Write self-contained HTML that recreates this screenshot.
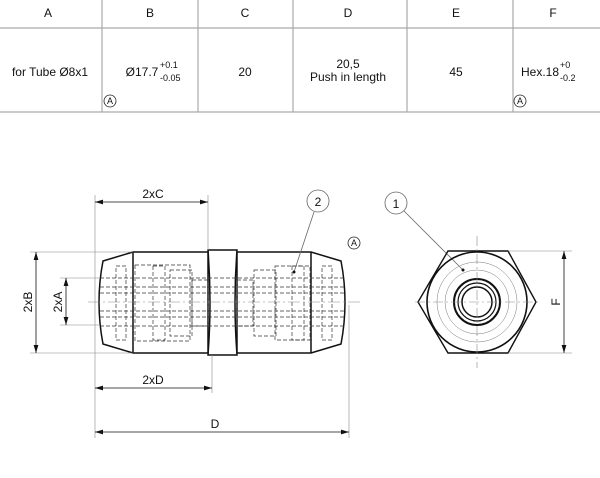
<!DOCTYPE html>
<html><head><style>body{margin:0;background:#fff}svg{display:block}text{font-family:"Liberation Sans",sans-serif;fill:#111}</style></head><body>
<svg width="600" height="478" viewBox="0 0 600 478">
<defs><marker id="a" viewBox="0 0 10 6" refX="10" refY="3" markerWidth="10" markerHeight="6" orient="auto-start-reverse"><path d="M0,0L10,3L0,6z" fill="#111"/></marker></defs>
<g stroke="#aaa" stroke-width="1.2">
<line x1="0" y1="28" x2="600" y2="28"/><line x1="0" y1="112" x2="600" y2="112"/>
<line x1="102" y1="0" x2="102" y2="112"/><line x1="198" y1="0" x2="198" y2="112"/><line x1="293" y1="0" x2="293" y2="112"/><line x1="407" y1="0" x2="407" y2="112"/><line x1="513" y1="0" x2="513" y2="112"/>
</g>
<g font-size="12" text-anchor="middle">
<text x="48" y="17">A</text><text x="150" y="17">B</text><text x="245" y="17">C</text><text x="348" y="17">D</text><text x="456" y="17">E</text><text x="553" y="17">F</text>
<text x="50" y="76">for Tube Ø8x1</text>
<text x="142" y="76">Ø17.7</text>
<text x="245" y="76">20</text>
<text x="348" y="68">20,5</text><text x="348" y="81">Push in length</text>
<text x="456" y="76">45</text>
<text x="540" y="76">Hex.18</text>
</g>
<g font-size="9"><text x="160" y="68">+0.1</text><text x="160" y="81">-0.05</text><text x="560" y="68">+0</text><text x="560" y="81">-0.2</text></g>
<g fill="none" stroke="#222" stroke-width="0.8"><circle cx="110" cy="101" r="6"/><circle cx="520" cy="101" r="6"/><circle cx="354" cy="243" r="6"/></g>
<g font-size="9" text-anchor="middle"><text x="110" y="104">A</text><text x="520" y="104">A</text><text x="354" y="246">A</text></g>
<!-- side view -->
<g fill="none" stroke="#111" stroke-width="1.5">
<path d="M133,252 L208,252 L208,353 L133,353 L103,344 Q95,302 103,261 Z"/>
<path d="M237,252 L311,252 L341,261 Q349,302 341,344 L311,353 L237,353 Z"/>
<path d="M208,250 L237,250 Q233,302 237,355 L208,355 Q212,302 208,250 Z"/>
<line x1="133" y1="252" x2="133" y2="353"/><line x1="311" y1="252" x2="311" y2="353"/>
</g>
<g fill="none" stroke="#333" stroke-width="0.7" stroke-dasharray="4,2">
<line x1="100" y1="278" x2="345" y2="278"/><line x1="100" y1="287" x2="345" y2="287"/><line x1="100" y1="293" x2="345" y2="293"/>
<line x1="100" y1="311" x2="345" y2="311"/><line x1="100" y1="317" x2="345" y2="317"/><line x1="100" y1="326" x2="345" y2="326"/>
<rect x="116" y="266" width="10" height="74"/><rect x="135" y="265" width="55" height="76"/><rect x="153" y="266" width="12" height="74"/><rect x="170" y="270" width="22" height="66"/><rect x="192" y="280" width="16" height="46"/>
<rect x="237" y="280" width="16" height="46"/><rect x="254" y="270" width="22" height="66"/><rect x="275" y="266" width="35" height="74"/><rect x="292" y="266" width="12" height="74"/><rect x="322" y="266" width="10" height="74"/>
</g>
<g stroke="#888" stroke-width="0.6" fill="none">
<line x1="88" y1="302" x2="360" y2="302" stroke-dasharray="12,3,2,3"/>
<line x1="95" y1="195" x2="95" y2="438"/><line x1="208" y1="195" x2="208" y2="250"/><line x1="212" y1="355" x2="212" y2="393"/><line x1="349" y1="305" x2="349" y2="438"/>
<line x1="30" y1="252" x2="133" y2="252"/><line x1="30" y1="353" x2="133" y2="353"/><line x1="60" y1="278" x2="100" y2="278"/><line x1="60" y1="325" x2="100" y2="325"/>
</g>
<g stroke="#111" stroke-width="0.8" marker-start="url(#a)" marker-end="url(#a)">
<line x1="95" y1="202" x2="208" y2="202"/><line x1="95" y1="388" x2="212" y2="388"/><line x1="95" y1="432" x2="349" y2="432"/>
<line x1="36" y1="252" x2="36" y2="353"/><line x1="66" y1="278" x2="66" y2="325"/>
<line x1="564" y1="251" x2="564" y2="353"/>
</g>
<g font-size="12" text-anchor="middle">
<text x="153" y="198">2xC</text><text x="153" y="384">2xD</text><text x="215" y="428">D</text>
<text transform="translate(32,302) rotate(-90)">2xB</text><text transform="translate(62,302) rotate(-90)">2xA</text>
<text transform="translate(560,302) rotate(-90)">F</text>
</g>
<g fill="none" stroke="#666" stroke-width="0.8"><circle cx="318" cy="201" r="11"/><line x1="314" y1="212" x2="294" y2="272"/><circle cx="396" cy="203" r="11"/><line x1="404" y1="211" x2="463" y2="270"/></g>
<g font-size="12" text-anchor="middle"><text x="318" y="206">2</text><text x="396" y="208">1</text></g>
<!-- end view -->
<g fill="none" stroke="#111">
<path d="M448,251 L508,251 L536,302 L508,353 L448,353 L418,302 Z" stroke-width="1.4"/>
<circle cx="477" cy="302" r="50" stroke-width="1.6"/>
<circle cx="477" cy="302" r="40" stroke-width="0.5" stroke="#777"/><circle cx="477" cy="302" r="32" stroke-width="0.5" stroke="#777"/>
<circle cx="477" cy="302" r="23" stroke-width="2"/><circle cx="477" cy="302" r="19" stroke-width="1.2"/><circle cx="477" cy="302" r="15" stroke-width="1.5"/>
</g>
<g stroke="#888" stroke-width="0.6"><line x1="415" y1="302" x2="540" y2="302" stroke-dasharray="10,3,2,3"/><line x1="477" y1="236" x2="477" y2="368" stroke-dasharray="10,3,2,3"/><line x1="508" y1="251" x2="572" y2="251"/><line x1="508" y1="353" x2="572" y2="353"/></g>
<circle cx="463" cy="270" r="1.5" fill="#111"/><circle cx="294" cy="272" r="1.5" fill="#111"/>
</svg></body></html>
